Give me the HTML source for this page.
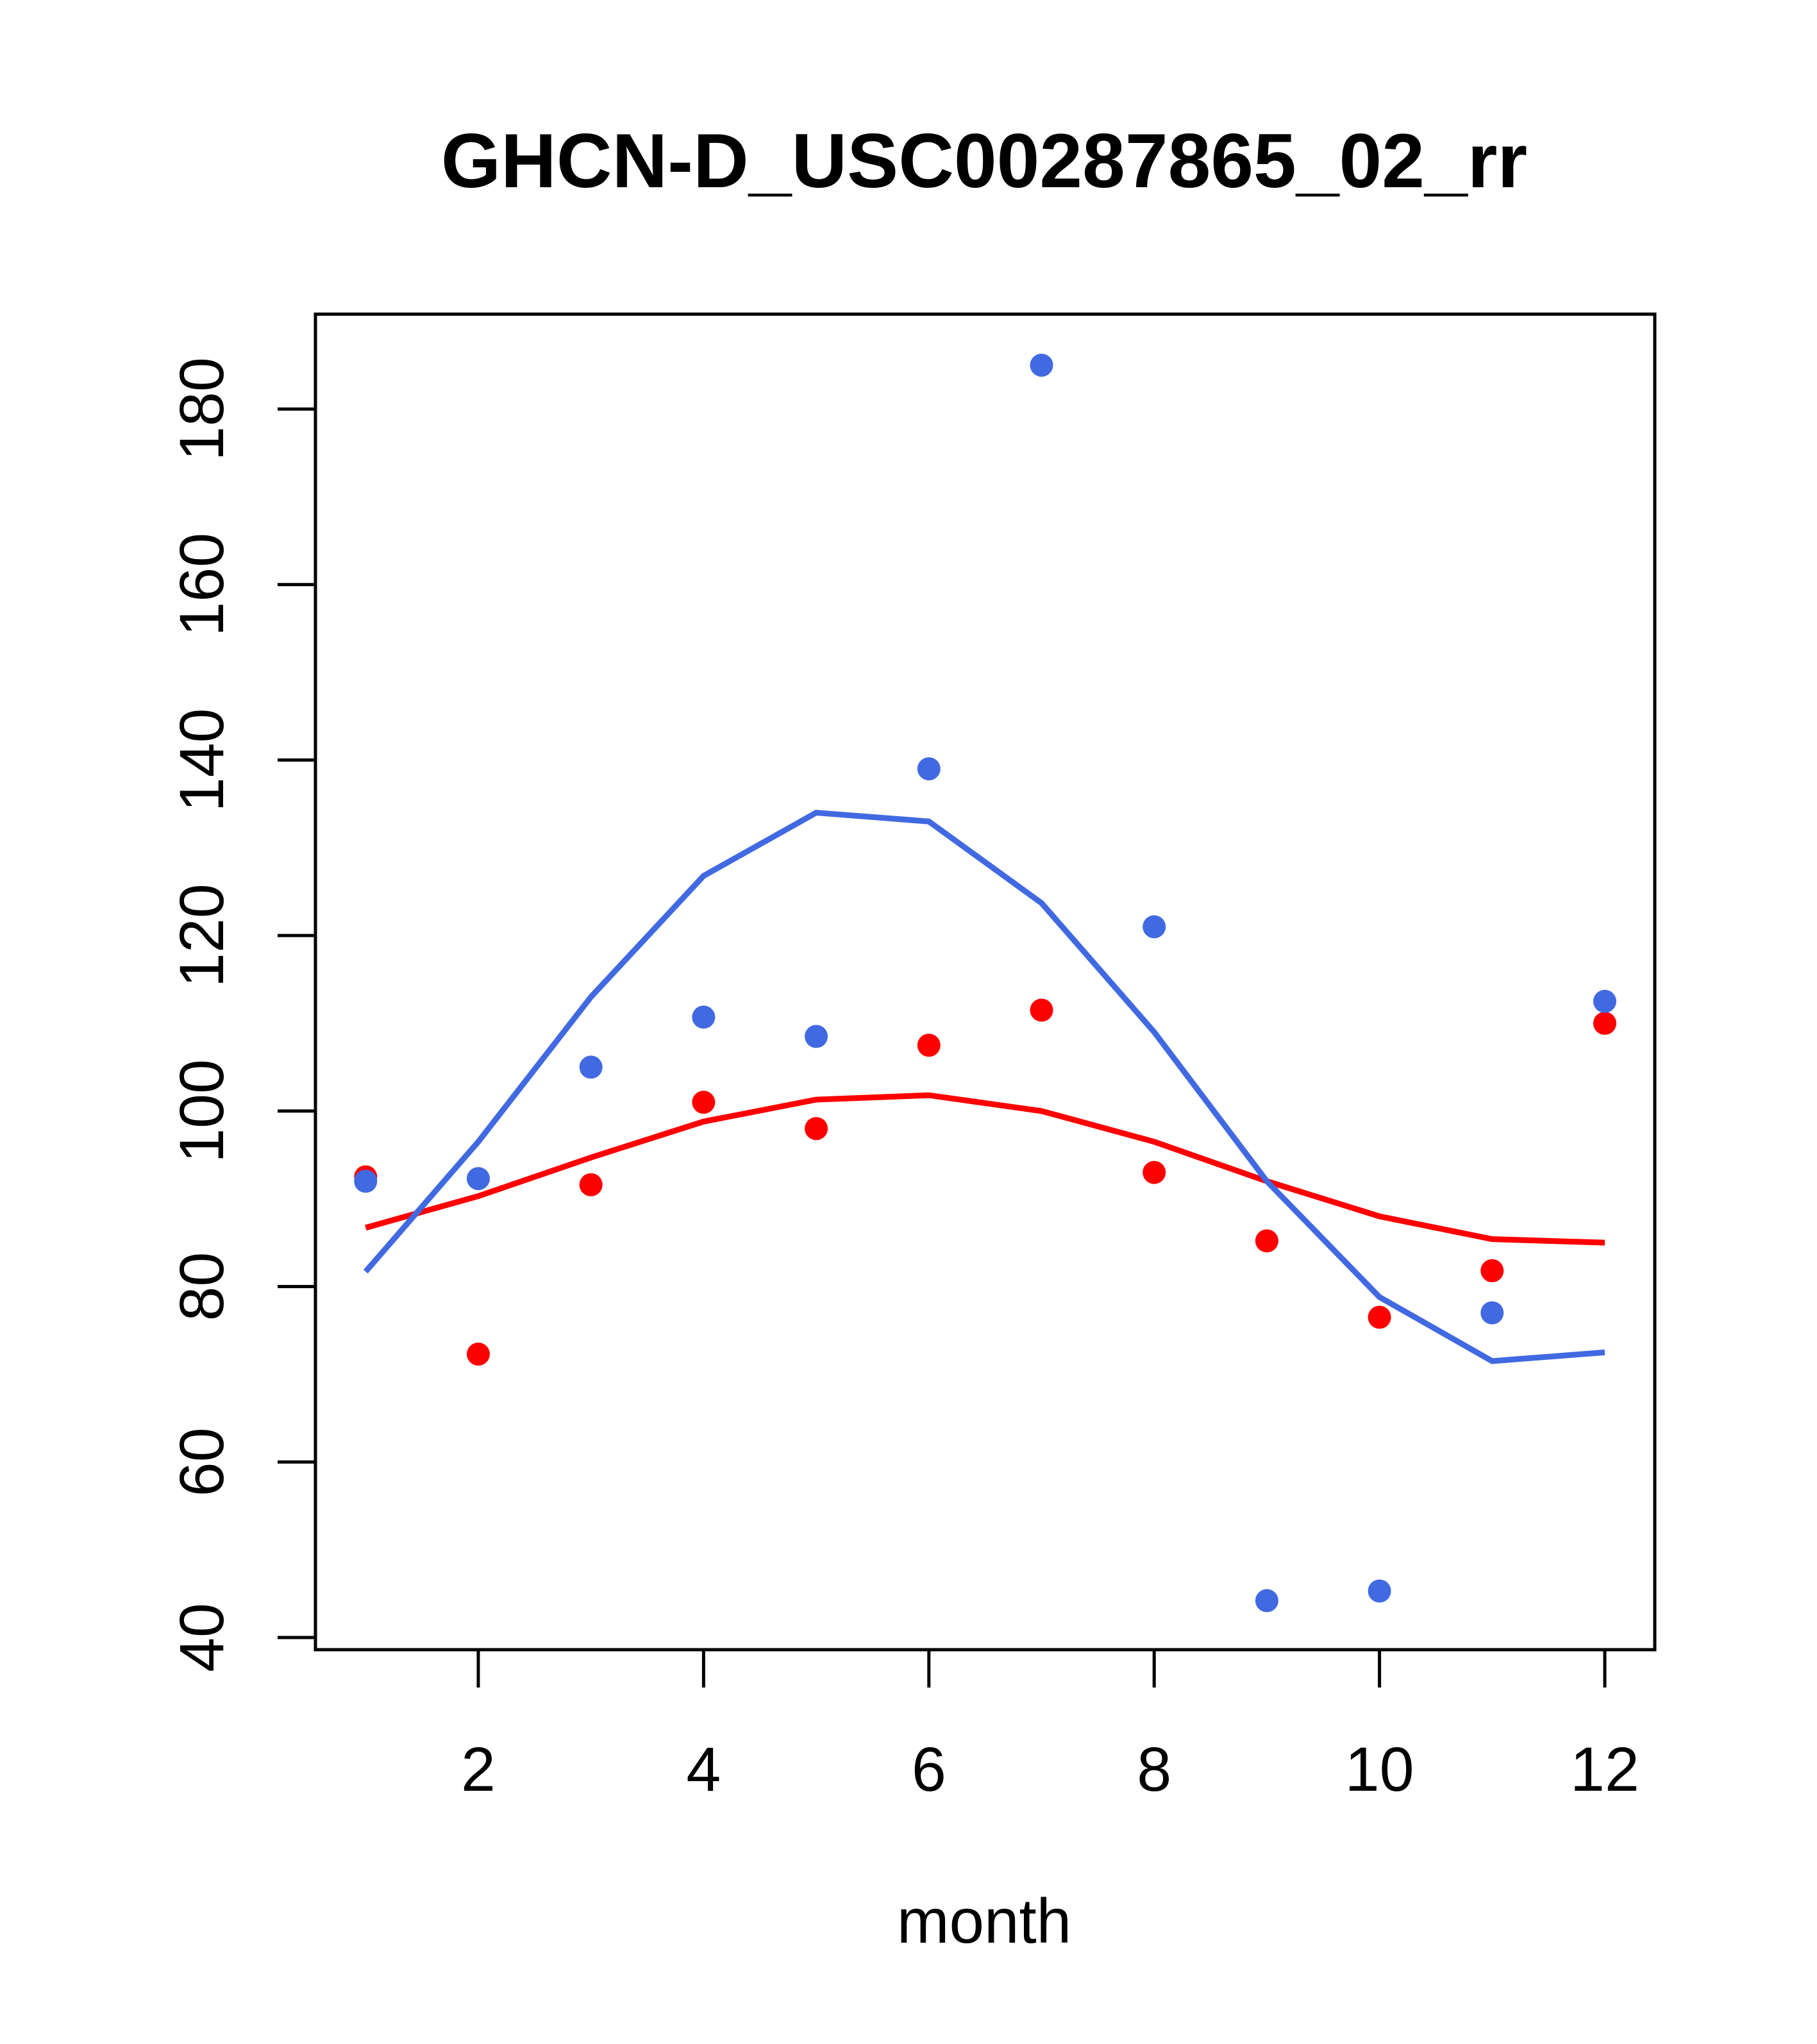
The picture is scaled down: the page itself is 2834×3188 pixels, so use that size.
<!DOCTYPE html>
<html><head><meta charset="utf-8"><style>html,body{margin:0;padding:0;background:#fff}svg{display:block}</style></head>
<body>
<svg id="chart" width="2834" height="3188" xmlns="http://www.w3.org/2000/svg" font-family="Liberation Sans, sans-serif">
<text x="1535" y="292" font-size="120" font-weight="bold" text-anchor="middle">GHCN-D_USC00287865_02_rr</text>
<rect x="492" y="490" width="2089" height="2083" fill="none" stroke="#000" stroke-width="5"/>
<g id="axes"></g>
<g id="series"></g>
<text x="1535" y="3030" font-size="98" text-anchor="middle">month</text>
</svg>
<script>
const months=[1,2,3,4,5,6,7,8,9,10,11,12];
const bluePoints=[92,92.3,105,110.7,108.5,139,185,121,44.2,45.3,77,112.5];
const redPoints=[92.5,72.3,91.6,101,98,107.5,111.5,93,85.2,76.5,81.8,110];
const blueLine=[81.7,96.5,113,126.8,134,133,123.7,109,92,78.8,71.5,72.5];
const redLine=[86.7,90.3,94.7,98.8,101.3,101.8,100,96.5,92,88,85.4,85];
const xTicks=[2,4,6,8,10,12];
const yTicks=[40,60,80,100,120,140,160,180];
const NS="http://www.w3.org/2000/svg";
function X(m){return 746+(m-2)*175.7;}
function Y(v){return 2554-(v-40)*(2554-638)/140;}
function mk(t,a,p){const e=document.createElementNS(NS,t);for(const k in a)e.setAttribute(k,a[k]);p.appendChild(e);return e;}
const ax=document.getElementById('axes'),se=document.getElementById('series');
xTicks.forEach(t=>{
 const l=mk('line',{x1:X(t),x2:X(t),y1:2573,y2:2632,stroke:'#000','stroke-width':5},ax);
 
 
 const tx=mk('text',{x:X(t),y:2793,'font-size':97,'text-anchor':'middle'},ax);tx.textContent=t;
 
 
});
mk('line',{x1:X(2),x2:X(12),y1:2573,y2:2573,stroke:'#000','stroke-width':5},ax);
yTicks.forEach(t=>{
 const l=mk('line',{x1:433,x2:492,y1:Y(t),y2:Y(t),stroke:'#000','stroke-width':5},ax);
 
 
 const tx=mk('text',{x:348,y:Y(t),'font-size':97,'text-anchor':'middle',transform:`rotate(-90 348 ${Y(t)})`},ax);tx.textContent=t;
 
 
});
mk('line',{x1:492,x2:492,y1:Y(40),y2:Y(180),stroke:'#000','stroke-width':5},ax);
function line(vals,c,n){const p=mk('polyline',{points:vals.map((v,i)=>X(months[i])+','+Y(v)).join(' '),fill:'none',stroke:c,'stroke-width':9},se);
 
 }
function pts(vals,c,n){vals.forEach((v,i)=>{const e=mk('circle',{cx:X(months[i]),cy:Y(v),r:18,fill:c},se);
 
 });}
line(redLine,'#ff0000','red-smooth-line');
line(blueLine,'#4169e1','blue-smooth-line');
pts(redPoints,'#ff0000','red-point');
pts(bluePoints,'#4169e1','blue-point');
</script>
</body></html>
